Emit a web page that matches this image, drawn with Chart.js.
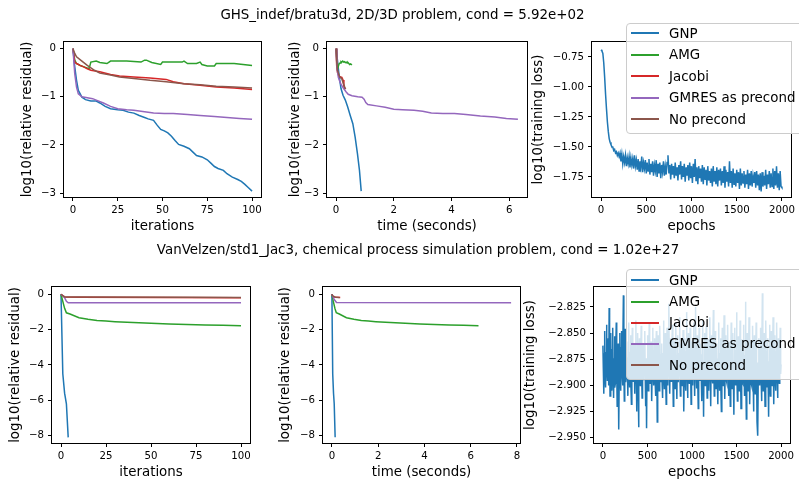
<!DOCTYPE html>
<html>
<head>
<meta charset="utf-8">
<script src="https://cdn.jsdelivr.net/npm/chart.js@4.4.1/dist/chart.umd.min.js"></script>
<style>
  html,body{margin:0;padding:0;background:#fff;}
  #wrap{position:relative;width:799px;height:481px;overflow:hidden;background:#fff;font-family:"DejaVu Sans",sans-serif;}
  canvas{position:absolute;left:0;top:0;}
  .sup{position:absolute;font-size:13.4px;line-height:16px;color:#000;text-align:center;white-space:nowrap;}
  .leg{position:absolute;left:626px;width:200px;background:rgba(255,255,255,0.8);border:1px solid #cccccc;border-radius:4px;box-sizing:border-box;}
  .ent{position:absolute;left:0;height:20px;display:flex;align-items:center;font-size:13.4px;color:#000;white-space:nowrap;}
  .hd{display:inline-block;width:28px;height:2px;margin-left:4px;margin-right:10px;}
</style>
</head>
<body>
<div id="wrap"></div>
<script>
// ---------------- DATA ----------------
const methods = ["GNP", "AMG", "Jacobi", "GMRES as precond", "No precond"];
const colors = ["#1f77b4", "#2ca02c", "#d62728", "#9467bd", "#8c564b"];

const title1 = "GHS_indef/bratu3d, 2D/3D problem, cond = 5.92e+02";
const title2 = "VanVelzen/std1_Jac3, chemical process simulation problem, cond = 1.02e+27";

// Problem 1: residual vs iterations
const p1IterGNP_x = [0,1,2,3,5,7,10,13,15,18,21,25,28,31,34,37,40,42,45,47,49,51,53,55,57,59,62,65,67,69,72,75,77,79,81,84,86,89,92,94,96,98,100];
const p1IterGNP_y = [0,-0.38,-0.66,-0.87,-1.01,-1.06,-1.09,-1.09,-1.13,-1.20,-1.25,-1.27,-1.28,-1.32,-1.34,-1.39,-1.43,-1.46,-1.49,-1.59,-1.68,-1.71,-1.75,-1.82,-1.91,-1.99,-2.03,-2.08,-2.15,-2.22,-2.25,-2.31,-2.38,-2.45,-2.49,-2.53,-2.60,-2.67,-2.72,-2.76,-2.82,-2.89,-2.96];
const p1IterAMG_x = [0,1,2,4,7,9,10,13,15,19,21,30,38,40,41,44,49,50,56,61,62,64,69,71,72,75,79,80,90,100];
const p1IterAMG_y = [0,-0.24,-0.31,-0.35,-0.39,-0.42,-0.28,-0.26,-0.29,-0.31,-0.26,-0.26,-0.28,-0.24,-0.24,-0.29,-0.33,-0.28,-0.28,-0.28,-0.26,-0.31,-0.31,-0.28,-0.33,-0.36,-0.36,-0.31,-0.31,-0.35];
const p1IterJac_x = [0,1,2,4,6,8,10,15,21,26,34,43,52,56,62,71,80,90,100];
const p1IterJac_y = [0,-0.28,-0.31,-0.35,-0.38,-0.42,-0.45,-0.48,-0.54,-0.57,-0.59,-0.61,-0.64,-0.69,-0.73,-0.76,-0.80,-0.82,-0.85];
const p1IterGM_x = [0,1,2,3,5,8,11,13,17,21,25,30,34,40,45,51,56,64,71,79,86,93,100];
const p1IterGM_y = [0,-0.52,-0.80,-0.94,-1.00,-1.02,-1.04,-1.07,-1.13,-1.20,-1.25,-1.27,-1.28,-1.31,-1.34,-1.35,-1.35,-1.37,-1.39,-1.41,-1.43,-1.45,-1.47];
const p1IterNo_x = [0,1,2,5,8,12,15,21,26,34,43,52,62,71,80,90,100];
const p1IterNo_y = [0,-0.10,-0.17,-0.26,-0.35,-0.45,-0.51,-0.55,-0.59,-0.62,-0.66,-0.69,-0.73,-0.75,-0.78,-0.80,-0.82];

// Problem 1: residual vs time (seconds)
const p1TimeGNP_x = [0,0.06,0.11,0.17,0.24,0.32,0.40,0.49,0.58,0.66,0.74,0.81,0.87];
const p1TimeGNP_y = [0,-0.31,-0.59,-0.83,-0.97,-1.07,-1.21,-1.39,-1.56,-1.84,-2.18,-2.53,-2.96];
const p1TimeAMG_x = [0,0.05,0.08,0.11,0.14,0.17,0.20,0.23,0.26,0.29,0.32,0.35,0.38,0.41,0.44,0.47,0.50,0.55];
const p1TimeAMG_y = [0,-0.42,-0.36,-0.31,-0.30,-0.27,-0.28,-0.26,-0.28,-0.27,-0.29,-0.28,-0.30,-0.29,-0.31,-0.33,-0.32,-0.34];
const p1TimeJac_x = [0,0.02,0.05,0.10,0.20,0.24,0.27,0.30];
const p1TimeJac_y = [0,-0.35,-0.50,-0.58,-0.60,-0.65,-0.78,-0.85];
const p1TimeGM_x = [0,0.03,0.08,0.15,0.25,0.35,0.42,0.55,0.75,0.90,0.97,1.03,1.10,1.40,1.70,2.00,2.30,2.70,3.00,3.30,3.70,4.10,4.50,5.00,5.50,5.90,6.30];
const p1TimeGM_y = [0,-0.40,-0.60,-0.72,-0.82,-0.90,-0.95,-0.98,-1.00,-1.01,-1.05,-1.12,-1.16,-1.19,-1.22,-1.26,-1.27,-1.28,-1.30,-1.34,-1.35,-1.35,-1.37,-1.40,-1.42,-1.45,-1.47];
const p1TimeNo_x = [0,0.02,0.05,0.12,0.20,0.25,0.30,0.33];
const p1TimeNo_y = [0,-0.25,-0.45,-0.58,-0.63,-0.72,-0.80,-0.84];

// Problem 1: GNP training loss, one value every 10 epochs (0..2000)
const p1LossStep = 10;
const p1Loss = [
 -0.69,-0.70,-0.72,-0.80,-0.92,-1.06,-1.18,-1.29,-1.37,-1.43,-1.46,
 -1.48,-1.50,-1.50,-1.53,-1.52,-1.55,-1.54,-1.57,-1.55,-1.58,
 -1.55,-1.62,-1.56,-1.64,-1.58,-1.63,-1.57,-1.66,-1.59,-1.64,
 -1.58,-1.67,-1.59,-1.65,-1.60,-1.68,-1.57,-1.66,-1.61,-1.69,
 -1.60,-1.70,-1.62,-1.67,-1.58,-1.71,-1.63,-1.68,-1.61,-1.72,
 -1.63,-1.70,-1.60,-1.73,-1.64,-1.71,-1.62,-1.74,-1.65,-1.70,
 -1.61,-1.75,-1.64,-1.72,-1.63,-1.76,-1.65,-1.71,-1.62,-1.74,
 -1.66,-1.73,-1.63,-1.57,-1.72,-1.65,-1.77,-1.64,-1.73,-1.66,
 -1.76,-1.63,-1.74,-1.67,-1.78,-1.65,-1.73,-1.62,-1.77,-1.66,
 -1.75,-1.64,-1.79,-1.67,-1.74,-1.65,-1.78,-1.63,-1.76,-1.66,
 -1.80,-1.64,-1.75,-1.60,-1.78,-1.67,-1.81,-1.66,-1.76,-1.68,
 -1.79,-1.65,-1.81,-1.67,-1.77,-1.69,-1.82,-1.66,-1.78,-1.70,
 -1.80,-1.68,-1.83,-1.66,-1.79,-1.70,-1.81,-1.67,-1.83,-1.69,
 -1.78,-1.68,-1.82,-1.70,-1.80,-1.66,-1.84,-1.69,-1.79,-1.71,
 -1.83,-1.62,-1.80,-1.70,-1.84,-1.68,-1.81,-1.72,-1.83,-1.69,
 -1.80,-1.71,-1.85,-1.68,-1.82,-1.72,-1.80,-1.70,-1.84,-1.73,
 -1.81,-1.69,-1.85,-1.72,-1.82,-1.70,-1.83,-1.74,-1.80,-1.71,
 -1.84,-1.70,-1.82,-1.73,-1.86,-1.72,-1.87,-1.71,-1.83,-1.74,
 -1.82,-1.69,-1.85,-1.73,-1.81,-1.70,-1.84,-1.72,-1.83,-1.68,
 -1.85,-1.70,-1.82,-1.66,-1.84,-1.72,-1.86,-1.70,-1.83,-1.84
];

// Problem 2: residual vs iterations
const p2IterGNP_x = [0,1,2,3,4];
const p2IterGNP_y = [0,-4.5,-5.6,-6.2,-8.1];
const p2IterAMG_x = [0,1,2,3,5,10,15,20,25,30,40,50,60,70,80,90,100];
const p2IterAMG_y = [0,-0.40,-0.80,-1.05,-1.12,-1.33,-1.42,-1.49,-1.52,-1.55,-1.60,-1.64,-1.68,-1.71,-1.74,-1.76,-1.78];
const p2IterJac_x = [0,2,10,100];
const p2IterJac_y = [0,-0.15,-0.17,-0.20];
const p2IterGM_x = [0,2,3,4,100];
const p2IterGM_y = [0,-0.20,-0.40,-0.48,-0.48];
const p2IterNo_x = [0,2,10,70,100];
const p2IterNo_y = [0,-0.15,-0.16,-0.17,-0.19];

// Problem 2: residual vs time (seconds)
const p2TimeGNP_x = [0,0.035,0.07,0.10,0.14];
const p2TimeGNP_y = [0,-4.5,-5.6,-6.2,-8.1];
const p2TimeAMG_x = [0,0.06,0.13,0.19,0.32,0.63,0.95,1.27,1.58,1.90,2.53,3.17,3.80,4.43,5.07,5.70,6.34];
const p2TimeAMG_y = [0,-0.40,-0.80,-1.05,-1.12,-1.33,-1.42,-1.49,-1.52,-1.55,-1.60,-1.64,-1.68,-1.71,-1.74,-1.76,-1.78];
const p2TimeJac_x = [0,0.05,0.36];
const p2TimeJac_y = [0,-0.15,-0.18];
const p2TimeGM_x = [0,0.10,0.20,7.75];
const p2TimeGM_y = [0,-0.30,-0.47,-0.48];
const p2TimeNo_x = [0,0.04,0.15,0.33];
const p2TimeNo_y = [0,-0.10,-0.17,-0.18];

// Problem 2: GNP training loss, one value every 5 epochs (0..2000)
const p2LossStep = 5;
const p2Loss = [
 -2.862,-2.885,-2.908,-2.870,-2.848,-2.893,-2.902,-2.868,-2.842,-2.880,-2.895,-2.872,-2.855,-2.900,-2.826,-2.868,-2.910,-2.878,-2.850,-2.896,
 -2.905,-2.866,-2.845,-2.889,-2.912,-2.874,-2.853,-2.902,-2.898,-2.862,-2.840,-2.884,-2.920,-2.870,-2.860,-2.895,-2.942,-2.876,-2.850,-2.893,
 -2.905,-2.864,-2.848,-2.887,-2.900,-2.870,-2.814,-2.882,-2.915,-2.872,-2.846,-2.897,-2.893,-2.866,-2.858,-2.888,-2.910,-2.874,-2.840,-2.892,
 -2.902,-2.868,-2.852,-2.894,-2.918,-2.871,-2.845,-2.886,-2.896,-2.864,-2.860,-2.899,-2.908,-2.873,-2.838,-2.885,-2.925,-2.870,-2.850,-2.897,
 -2.940,-2.877,-2.855,-2.890,-2.900,-2.866,-2.843,-2.889,-2.912,-2.870,-2.860,-2.893,-2.895,-2.868,-2.848,-2.887,-2.920,-2.874,-2.941,-2.880,
 -2.852,-2.895,-2.905,-2.869,-2.840,-2.888,-2.898,-2.871,-2.858,-2.897,-2.915,-2.873,-2.845,-2.890,-2.900,-2.867,-2.855,-2.893,-2.910,-2.872,
 -2.848,-2.889,-2.935,-2.876,-2.852,-2.893,-2.905,-2.866,-2.843,-2.886,-2.897,-2.871,-2.860,-2.899,-2.912,-2.869,-2.838,-2.884,-2.903,-2.872,
 -2.850,-2.894,-2.918,-2.873,-2.845,-2.888,-2.900,-2.865,-2.822,-2.884,-2.908,-2.872,-2.855,-2.896,-2.895,-2.868,-2.842,-2.889,-2.920,-2.874,
 -2.857,-2.892,-2.903,-2.867,-2.840,-2.886,-2.913,-2.872,-2.852,-2.897,-2.897,-2.869,-2.835,-2.885,-2.910,-2.874,-2.860,-2.893,-2.900,-2.866,
 -2.847,-2.891,-2.925,-2.875,-2.855,-2.894,-2.905,-2.868,-2.830,-2.883,-2.912,-2.871,-2.850,-2.896,-2.898,-2.867,-2.845,-2.889,-2.918,-2.873,
 -2.858,-2.895,-2.900,-2.866,-2.840,-2.887,-2.910,-2.872,-2.825,-2.884,-2.903,-2.869,-2.852,-2.898,-2.922,-2.876,-2.845,-2.888,-2.895,-2.867,
 -2.860,-2.896,-2.915,-2.871,-2.838,-2.885,-2.930,-2.877,-2.850,-2.893,-2.900,-2.866,-2.843,-2.889,-2.912,-2.873,-2.856,-2.897,-2.905,-2.868,
 -2.835,-2.886,-2.920,-2.874,-2.852,-2.892,-2.898,-2.866,-2.828,-2.883,-2.910,-2.872,-2.848,-2.894,-2.903,-2.868,-2.860,-2.898,-2.918,-2.875,
 -2.840,-2.887,-2.905,-2.869,-2.855,-2.896,-2.925,-2.876,-2.845,-2.890,-2.900,-2.866,-2.833,-2.884,-2.913,-2.872,-2.852,-2.895,-2.897,-2.867,
 -2.842,-2.888,-2.910,-2.873,-2.858,-2.897,-2.920,-2.875,-2.840,-2.886,-2.903,-2.868,-2.850,-2.894,-2.928,-2.877,-2.845,-2.889,-2.900,-2.866,
 -2.830,-2.884,-2.915,-2.872,-2.853,-2.895,-2.905,-2.869,-2.838,-2.886,-2.922,-2.876,-2.856,-2.897,-2.898,-2.866,-2.842,-2.888,-2.910,-2.871,
 -2.820,-2.882,-2.932,-2.877,-2.850,-2.893,-2.905,-2.868,-2.835,-2.885,-2.918,-2.874,-2.858,-2.898,-2.900,-2.867,-2.843,-2.889,-2.925,-2.876,
 -2.852,-2.894,-2.908,-2.870,-2.840,-2.887,-2.935,-2.878,-2.948,-2.880,-2.855,-2.896,-2.900,-2.866,-2.845,-2.890,-2.915,-2.873,-2.812,-2.878,
 -2.905,-2.872,-2.850,-2.895,-2.920,-2.874,-2.838,-2.886,-2.902,-2.868,-2.855,-2.897,-2.930,-2.877,-2.842,-2.889,-2.910,-2.871,-2.848,-2.893,
 -2.900,-2.866,-2.835,-2.885,-2.918,-2.874,-2.852,-2.895,-2.905,-2.868,-2.840,-2.888,-2.912,-2.873,-2.855,-2.896,-2.898,-2.867,-2.845,-2.889,
 -2.880
];

// Tick labels
const ticksIter = [0,25,50,75,100];
const ticksTime1 = [0,2,4,6];
const ticksTime2 = [0,2,4,6,8];
const ticksEpoch = [0,500,1000,1500,2000];
const ticksRes1 = [0,-1,-2,-3];
const ticksRes2 = [0,-2,-4,-6,-8];
const ticksLoss1 = [-0.75,-1.00,-1.25,-1.50,-1.75];
const ticksLoss2 = [-2.825,-2.850,-2.875,-2.900,-2.925,-2.950];

// ---------------- RENDER ----------------
Chart.defaults.font.family = "'DejaVu Sans', sans-serif";
Chart.defaults.color = "#000";

const W = 799, H = 481, XH = 38, LH2 = 8;
const wrap = document.getElementById('wrap');

const framePlugin = {
  id: 'frame',
  afterDatasetsDraw(chart) {
    const a = chart.chartArea, c = chart.ctx;
    c.save();
    c.strokeStyle = '#000';
    c.lineWidth = 1;
    const l = Math.round(a.left) - 0.5, t = Math.round(a.top) - 0.5;
    const r = Math.round(a.right) + 0.5, b = Math.round(a.bottom) + 0.5;
    c.strokeRect(l, t, r - l, b - t);
    c.restore();
  }
};

function fmt(v, dec) {
  const s = Number(v).toFixed(dec);
  return s.replace('-', '\u2212');
}
function zeroPad(s) { s.paddingLeft = 0; s.paddingRight = 0; s.paddingTop = 0; s.paddingBottom = 0; }
function pts(xs, ys) { return xs.map((x, i) => ({x: x, y: ys[i]})); }

function panel(cfg) {
  const cv = document.createElement('canvas');
  cv.width = W; cv.height = H;
  wrap.appendChild(cv);
  const padL = cfg.ytitle - LH2;
  const datasets = cfg.series.map((s, i) => ({
    label: s.label,
    data: s.data,
    borderColor: s.color,
    backgroundColor: s.color,
    borderWidth: 1.5,
    pointRadius: 0,
    fill: false,
    tension: 0,
    order: cfg.series.length - i
  }));
  const gridOpt = {display: true, drawOnChartArea: false, drawTicks: true, tickLength: 4, color: '#000', lineWidth: 1};
  new Chart(cv.getContext('2d'), {
    type: 'line',
    data: {datasets},
    options: {
      responsive: false, animation: false, events: [],
      layout: {padding: {left: padL, top: cfg.box[1], right: W - cfg.box[2], bottom: H - cfg.box[3] - XH}},
      plugins: {legend: {display: false}, tooltip: {enabled: false}, title: {display: false}},
      scales: {
        x: {
          type: 'linear', min: cfg.xr[0], max: cfg.xr[1],
          afterBuildTicks: s => { s.ticks = cfg.xt.map(v => ({value: v})); },
          afterFit: s => { s.height = XH; zeroPad(s); },
          ticks: {callback: v => fmt(v, cfg.xd), font: {size: 10.2}, padding: 3, maxRotation: 0, autoSkip: false, color: '#000'},
          grid: gridOpt, border: {display: false},
          title: {display: true, text: cfg.xlabel, font: {size: 13.4}, padding: 0, color: '#000'}
        },
        y: {
          type: 'linear', min: cfg.yr[0], max: cfg.yr[1],
          afterBuildTicks: s => { s.ticks = cfg.yt.map(v => ({value: v})); },
          afterFit: s => { s.width = cfg.box[0] - padL; zeroPad(s); },
          ticks: {callback: v => fmt(v, cfg.yd), font: {size: 10.2}, padding: 4, autoSkip: false, color: '#000'},
          grid: gridOpt, border: {display: false},
          title: {display: true, text: cfg.ylabel, font: {size: 13.4}, padding: 0, color: '#000'}
        }
      }
    },
    plugins: [framePlugin]
  });
}

function seriesSet(list) {
  return list.map((d, i) => ({label: methods[i], color: colors[i], data: pts(d[0], d[1])}));
}
function lossSeries(vals, step) {
  return [{label: methods[0], color: colors[0], data: vals.map((v, i) => ({x: i * step, y: v}))}];
}

const resLabel = "log10(relative residual)";
const lossLabel = "log10(training loss)";

// Row 1
panel({box: [64, 42, 261, 197], xr: [-5, 105], yr: [-3.083, 0.137], xt: ticksIter, yt: ticksRes1, xd: 0, yd: 0,
  xlabel: "iterations", ylabel: resLabel, ytitle: 27,
  series: seriesSet([[p1IterGNP_x, p1IterGNP_y], [p1IterAMG_x, p1IterAMG_y], [p1IterJac_x, p1IterJac_y], [p1IterGM_x, p1IterGM_y], [p1IterNo_x, p1IterNo_y]])});
panel({box: [327, 42, 527, 197], xr: [-0.315, 6.615], yr: [-3.083, 0.137], xt: ticksTime1, yt: ticksRes1, xd: 0, yd: 0,
  xlabel: "time (seconds)", ylabel: resLabel, ytitle: 295,
  series: seriesSet([[p1TimeGNP_x, p1TimeGNP_y], [p1TimeAMG_x, p1TimeAMG_y], [p1TimeJac_x, p1TimeJac_y], [p1TimeGM_x, p1TimeGM_y], [p1TimeNo_x, p1TimeNo_y]])});
panel({box: [592, 42, 791, 197], xr: [-100, 2100], yr: [-1.917, -0.625], xt: ticksEpoch, yt: ticksLoss1, xd: 0, yd: 2,
  xlabel: "epochs", ylabel: lossLabel, ytitle: 538,
  series: lossSeries(p1Loss, p1LossStep)});

// Row 2
panel({box: [52, 287, 250, 443], xr: [-5, 105], yr: [-8.42, 0.41], xt: ticksIter, yt: ticksRes2, xd: 0, yd: 0,
  xlabel: "iterations", ylabel: resLabel, ytitle: 15,
  series: seriesSet([[p2IterGNP_x, p2IterGNP_y], [p2IterAMG_x, p2IterAMG_y], [p2IterJac_x, p2IterJac_y], [p2IterGM_x, p2IterGM_y], [p2IterNo_x, p2IterNo_y]])});
panel({box: [323, 287, 520, 443], xr: [-0.385, 8.135], yr: [-8.42, 0.41], xt: ticksTime2, yt: ticksRes2, xd: 0, yd: 0,
  xlabel: "time (seconds)", ylabel: resLabel, ytitle: 285,
  series: seriesSet([[p2TimeGNP_x, p2TimeGNP_y], [p2TimeAMG_x, p2TimeAMG_y], [p2TimeJac_x, p2TimeJac_y], [p2TimeGM_x, p2TimeGM_y], [p2TimeNo_x, p2TimeNo_y]])});
panel({box: [594, 287, 790, 443], xr: [-100, 2100], yr: [-2.955, -2.806], xt: ticksEpoch, yt: ticksLoss2, xd: 0, yd: 3,
  xlabel: "epochs", ylabel: lossLabel, ytitle: 530,
  series: lossSeries(p2Loss, p2LossStep)});

// Titles
function sup(text, cx, cy) {
  const d = document.createElement('div');
  d.className = 'sup';
  d.textContent = text;
  d.style.left = (cx - 400) + 'px';
  d.style.width = '800px';
  d.style.top = (cy - 8) + 'px';
  wrap.appendChild(d);
}
sup(title1, 402.5, 14.5);
sup(title2, 418, 250);

// Legends
function legend(top, height, centers) {
  const lg = document.createElement('div');
  lg.className = 'leg';
  lg.style.top = top + 'px';
  lg.style.height = height + 'px';
  methods.forEach((m, i) => {
    const e = document.createElement('div');
    e.className = 'ent';
    e.style.top = (centers[i] - top - 10 - 1) + 'px';
    const h = document.createElement('span');
    h.className = 'hd';
    h.style.background = colors[i];
    const t = document.createElement('span');
    t.textContent = m;
    e.appendChild(h); e.appendChild(t);
    lg.appendChild(e);
  });
  wrap.appendChild(lg);
}
legend(22.5, 111, [33.3, 54.5, 76.2, 97.7, 119]);
legend(268.5, 111, [280, 301.5, 322.7, 343.5, 365]);
</script>
</body>
</html>
